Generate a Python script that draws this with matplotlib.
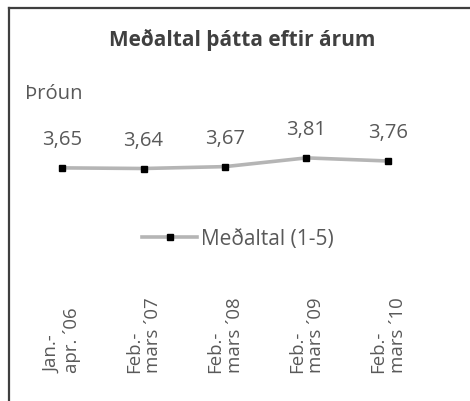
import matplotlib
matplotlib.use("Agg")
import matplotlib.pyplot as plt
from matplotlib.lines import Line2D

plt.rcParams['font.family'] = ['Open Sans', 'DejaVu Sans']

# Data
categories = ["Jan.-\napr. \u00b406", "Feb.-\nmars \u00b407", "Feb.-\nmars \u00b408",
              "Feb.-\nmars \u00b409", "Feb.-\nmars \u00b410"]
values = [3.65, 3.64, 3.67, 3.81, 3.76]
value_labels = ["3,65", "3,64", "3,67", "3,81", "3,76"]
series_name = "Meðaltal (1-5)"
title = "Meðaltal þátta eftir árum"
subtitle = "Þróun"

W, H = 470, 402
fig = plt.figure(figsize=(W / 100, H / 100), dpi=100)

# axes: bottom edge at pixel 300 from top
ax_bottom_px = 300
ax = fig.add_axes([0, (H - ax_bottom_px) / H, 1, ax_bottom_px / H])
ax.set_facecolor('none')
x = list(range(len(values)))
line_color = '#B5B5B5'
ax.plot(x, values, color=line_color, lw=2.6, marker='s', markersize=5,
        markerfacecolor='black', markeredgecolor='black', zorder=3)

# scale: 62.5 px per unit, value 0 at pixel 397 from top
ppu = 62.5
ax.set_ylim((397 - ax_bottom_px) / ppu, 397 / ppu)
step = 81.5
ax.set_xlim(-62 / step, (W - 62) / step)

for xi, v, lab in zip(x, values, value_labels):
    ax.annotate(lab, (xi, v), xytext=(0, 13.5), textcoords='offset points',
                ha='center', va='bottom', fontsize=14.6, color='#595959')

# category labels (rotated, bottom-aligned starts)
ax.set_xticks(x)
ax.set_xticklabels([])
ax.tick_params(axis='x', length=0)
for xi, lab in zip(x, categories):
    ax.text(xi, -(373 - ax_bottom_px) / ax_bottom_px, lab, transform=ax.get_xaxis_transform(),
            rotation=90, ha='center', va='bottom', multialignment='left',
            fontsize=13.4, color='#595959', linespacing=1.1,
            rotation_mode='default')
ax.set_yticks([])
for s in ax.spines.values():
    s.set_visible(False)

# legend
handle = Line2D([], [], color=line_color, lw=2.6, marker='s', markersize=5,
                markerfacecolor='black', markeredgecolor='black')
leg = fig.legend([handle], [series_name], loc='center', bbox_to_anchor=(238 / W, 1 - 240 / H),
                 frameon=False, fontsize=15, handlelength=2.64, handletextpad=0.2,
                 labelcolor='#595959')

fig.text(242 / W, 1 - 40 / H, title, ha='center', va='center', fontsize=15,
         fontweight='bold', color='#404040')
fig.text(25 / W, 1 - 94 / H, subtitle, ha='left', va='center', fontsize=14.6,
         color='#595959')

# frame (left and top edges visible)
fig.add_artist(Line2D([8.5 / W, 8.5 / W], [0, 1 - 8.5 / H], color='#3F3F3F', lw=1.6,
                      transform=fig.transFigure))
fig.add_artist(Line2D([8.5 / W, 1], [1 - 8.5 / H, 1 - 8.5 / H], color='#3F3F3F', lw=1.6,
                      transform=fig.transFigure))

fig.savefig('out.png', dpi=100)
